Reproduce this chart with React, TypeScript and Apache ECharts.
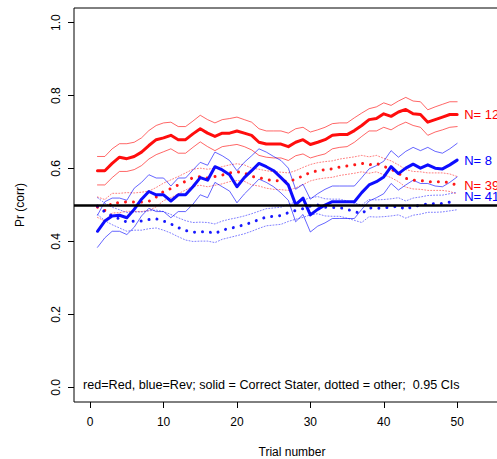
import React, { useEffect, useRef } from "react";
import * as echarts from "echarts";

const trials = [1,2,3,4,5,6,7,8,9,10,11,12,13,14,15,16,17,18,19,20,21,22,23,24,25,26,27,28,29,30,31,32,33,34,35,36,37,38,39,40,41,42,43,44,45,46,47,48,49,50];

const xTicks = [0, 10, 20, 30, 40, 50];
const yTicks = [0, 0.2, 0.4, 0.6, 0.8, 1.0];

// Red, correct stater (solid)
const redSolid = [0.594,0.594,0.614,0.631,0.627,0.633,0.645,0.663,0.679,0.684,0.691,0.679,0.679,0.695,0.709,0.697,0.688,0.697,0.697,0.703,0.697,0.691,0.672,0.667,0.667,0.667,0.660,0.672,0.679,0.666,0.672,0.679,0.691,0.693,0.693,0.704,0.718,0.734,0.737,0.750,0.743,0.755,0.762,0.750,0.748,0.727,0.734,0.741,0.748,0.748];
const redSolidHi = [0.633,0.633,0.654,0.668,0.668,0.672,0.684,0.704,0.718,0.725,0.727,0.715,0.715,0.730,0.746,0.734,0.725,0.734,0.737,0.741,0.734,0.727,0.709,0.703,0.703,0.703,0.697,0.709,0.713,0.700,0.706,0.713,0.723,0.725,0.725,0.739,0.752,0.764,0.769,0.780,0.773,0.785,0.795,0.785,0.783,0.761,0.769,0.776,0.783,0.783];
const redSolidLo = [0.555,0.555,0.575,0.592,0.592,0.597,0.608,0.626,0.638,0.646,0.654,0.642,0.642,0.658,0.673,0.660,0.649,0.660,0.663,0.666,0.660,0.651,0.636,0.631,0.629,0.629,0.622,0.635,0.640,0.629,0.635,0.640,0.654,0.658,0.660,0.672,0.688,0.703,0.703,0.713,0.706,0.718,0.727,0.718,0.713,0.691,0.700,0.706,0.713,0.715];

// Blue, correct stater (solid)
const blueSolid = [0.428,0.456,0.470,0.472,0.465,0.488,0.516,0.537,0.528,0.528,0.511,0.528,0.528,0.550,0.575,0.568,0.605,0.596,0.583,0.550,0.575,0.594,0.614,0.605,0.594,0.575,0.555,0.501,0.519,0.473,0.488,0.500,0.509,0.509,0.509,0.509,0.534,0.555,0.564,0.577,0.605,0.586,0.601,0.612,0.601,0.610,0.601,0.599,0.610,0.623];
const blueSolidHi = [0.472,0.509,0.519,0.519,0.513,0.546,0.562,0.583,0.574,0.574,0.552,0.574,0.574,0.596,0.617,0.609,0.645,0.635,0.622,0.594,0.617,0.635,0.654,0.645,0.633,0.622,0.601,0.543,0.557,0.516,0.531,0.543,0.552,0.552,0.552,0.552,0.575,0.599,0.608,0.620,0.649,0.631,0.647,0.658,0.649,0.658,0.647,0.642,0.654,0.669];
const blueSolidLo = [0.384,0.410,0.428,0.428,0.419,0.439,0.470,0.491,0.482,0.482,0.465,0.482,0.482,0.502,0.528,0.520,0.562,0.550,0.538,0.506,0.530,0.550,0.571,0.562,0.550,0.533,0.513,0.454,0.474,0.426,0.442,0.451,0.463,0.463,0.463,0.463,0.488,0.511,0.520,0.531,0.559,0.541,0.555,0.568,0.559,0.559,0.552,0.550,0.562,0.577];

// Red, other (dotted)
const redDot = [0.494,0.485,0.506,0.506,0.509,0.508,0.508,0.510,0.522,0.537,0.545,0.555,0.565,0.575,0.578,0.574,0.578,0.582,0.588,0.591,0.588,0.578,0.575,0.570,0.567,0.566,0.564,0.571,0.580,0.589,0.594,0.597,0.599,0.604,0.607,0.610,0.614,0.610,0.614,0.606,0.598,0.587,0.573,0.568,0.567,0.564,0.564,0.564,0.561,0.554];
const redDotHi = [0.522,0.515,0.532,0.532,0.534,0.533,0.535,0.538,0.548,0.560,0.569,0.578,0.588,0.598,0.601,0.598,0.601,0.605,0.610,0.613,0.610,0.601,0.598,0.594,0.591,0.590,0.588,0.594,0.603,0.611,0.616,0.619,0.621,0.626,0.629,0.632,0.636,0.632,0.636,0.628,0.621,0.610,0.597,0.592,0.591,0.588,0.588,0.588,0.585,0.578];
const redDotLo = [0.466,0.456,0.478,0.479,0.483,0.482,0.482,0.485,0.495,0.512,0.520,0.531,0.541,0.551,0.554,0.550,0.554,0.558,0.564,0.567,0.565,0.555,0.552,0.546,0.543,0.542,0.540,0.547,0.556,0.566,0.571,0.574,0.576,0.581,0.584,0.587,0.591,0.587,0.591,0.583,0.575,0.564,0.549,0.544,0.543,0.540,0.540,0.540,0.537,0.530];

// Blue, other (dotted)
const blueDot = [0.497,0.481,0.470,0.462,0.453,0.456,0.456,0.460,0.462,0.456,0.448,0.438,0.430,0.425,0.427,0.427,0.422,0.431,0.436,0.440,0.446,0.452,0.460,0.467,0.469,0.471,0.479,0.485,0.490,0.497,0.500,0.494,0.493,0.493,0.488,0.482,0.476,0.492,0.491,0.492,0.494,0.497,0.488,0.496,0.499,0.503,0.504,0.504,0.508,0.510];
const blueDotHi = [0.520,0.505,0.494,0.487,0.479,0.481,0.481,0.484,0.486,0.482,0.474,0.465,0.457,0.452,0.453,0.452,0.448,0.456,0.461,0.465,0.470,0.476,0.483,0.490,0.492,0.494,0.502,0.508,0.513,0.520,0.523,0.517,0.516,0.516,0.511,0.505,0.500,0.515,0.514,0.515,0.517,0.520,0.511,0.519,0.522,0.526,0.527,0.527,0.531,0.535];
const blueDotLo = [0.474,0.457,0.446,0.437,0.428,0.431,0.431,0.435,0.437,0.431,0.423,0.413,0.404,0.400,0.401,0.401,0.397,0.406,0.411,0.416,0.421,0.428,0.436,0.443,0.445,0.447,0.455,0.461,0.466,0.473,0.476,0.470,0.469,0.469,0.464,0.458,0.452,0.468,0.467,0.468,0.470,0.473,0.464,0.472,0.475,0.480,0.480,0.481,0.484,0.487];

const chance = 0.5;
const nLabels = { redSolid: "N= 12", blueSolid: "N= 8", redDot: "N= 39", blueDot: "N= 41" };
const legendText = "red=Red, blue=Rev; solid = Correct Stater, dotted = other;  0.95 CIs";

const FONT = "'Liberation Sans', Arial, Helvetica, sans-serif";
const RED = "#ff0000";
const BLUE = "#0000ff";

const pts = (arr: number[]) => trials.map((t, i) => [t, arr[i]]);

export default function App() {
  const ref = useRef<HTMLDivElement>(null);
  useEffect(() => {
    if (!ref.current) return;
    const chart = echarts.init(ref.current, undefined, { renderer: "svg" });

    const mk = (name: string, data: number[], color: string, width: number, type: any, opacity: number, extra: any = {}) => ({
      name,
      type: "line",
      data: pts(data),
      showSymbol: false,
      symbol: "none",
      silent: true,
      lineStyle: { color, width, type, opacity, cap: "round", join: "round" },
      ...extra,
    });

    const endLabel = (text: string, color: string, offset: number[] = [0, 0]) => ({
      endLabel: {
        show: true,
        formatter: text,
        color,
        fontSize: 13,
        fontFamily: FONT,
        distance: 7,
        offset,
      },
    });

    const series: any[] = [
      mk("redDotHi", redDotHi, RED, 1, [1, 2], 0.5),
      mk("redDotLo", redDotLo, RED, 1, [1, 2], 0.5),
      mk("blueDotHi", blueDotHi, BLUE, 1, [1, 2], 0.5),
      mk("blueDotLo", blueDotLo, BLUE, 1, [1, 2], 0.5),
      mk("redSolidHi", redSolidHi, RED, 1, "solid", 0.6),
      mk("redSolidLo", redSolidLo, RED, 1, "solid", 0.6),
      mk("blueSolidHi", blueSolidHi, BLUE, 1, "solid", 0.6),
      mk("blueSolidLo", blueSolidLo, BLUE, 1, "solid", 0.6),
      mk("redDot", redDot, RED, 3, [0.01, 8], 0.9, endLabel(nLabels.redDot, RED)),
      mk("blueDot", blueDot, BLUE, 3, [0.01, 8], 0.9, endLabel(nLabels.blueDot, BLUE, [0, -5])),
      mk("redSolid", redSolid, RED, 3, "solid", 0.95, endLabel(nLabels.redSolid, RED)),
      mk("blueSolid", blueSolid, BLUE, 3, "solid", 0.95, endLabel(nLabels.blueSolid, BLUE)),
      {
        name: "chance",
        type: "line",
        data: [],
        silent: true,
        z: 10,
        markLine: {
          silent: true,
          symbol: ["none", "none"],
          label: { show: false },
          lineStyle: { color: "#000", width: 2.5, type: "solid" },
          data: [{ yAxis: chance }],
        },
      },
    ];

    chart.setOption({
      animation: false,
      textStyle: { fontFamily: FONT },
      grid: {
        left: 74,
        top: 8,
        width: 436,
        height: 394,
        containLabel: false,
        outerBoundsMode: "none",
        show: true,
        borderColor: "#000",
        borderWidth: 1,
        backgroundColor: "transparent",
      },
      xAxis: {
        type: "value",
        min: -2.2,
        max: 57.2,
        axisLine: { show: false, onZero: false },
        splitLine: { show: false },
        axisTick: { show: true, length: 6, inside: false, customValues: xTicks, lineStyle: { color: "#000" } },
        axisLabel: { customValues: xTicks, color: "#000", fontSize: 12, margin: 14, fontFamily: FONT },
        name: "Trial number",
        nameLocation: "middle",
        nameGap: 44,
        nameTextStyle: { color: "#000", fontSize: 12, fontFamily: FONT },
      },
      yAxis: {
        type: "value",
        min: -0.04,
        max: 1.04,
        axisLine: { show: false, onZero: false },
        splitLine: { show: false },
        axisTick: { show: true, length: 6, customValues: yTicks, lineStyle: { color: "#000" } },
        axisLabel: {
          customValues: yTicks,
          color: "#000",
          fontSize: 12,
          rotate: 90,
          margin: 12,
          fontFamily: FONT,
          formatter: (v: number) => v.toFixed(1),
        },
        name: "Pr (corr)",
        nameLocation: "middle",
        nameGap: 48,
        nameRotate: 90,
        nameTextStyle: { color: "#000", fontSize: 12, fontFamily: FONT },
      },
      graphic: [
        {
          type: "text",
          left: 83,
          top: 378,
          style: { text: legendText, fill: "#000", font: `12.6px ${FONT}` },
          silent: true,
        },
      ],
      series,
    });
    return () => chart.dispose();
  }, []);

  return (
    <div style={{ position: "absolute", left: 0, top: 0, width: 497, height: 459, overflow: "hidden", background: "#fff" }}>
      <div ref={ref} style={{ width: 560, height: 459 }} />
    </div>
  );
}
